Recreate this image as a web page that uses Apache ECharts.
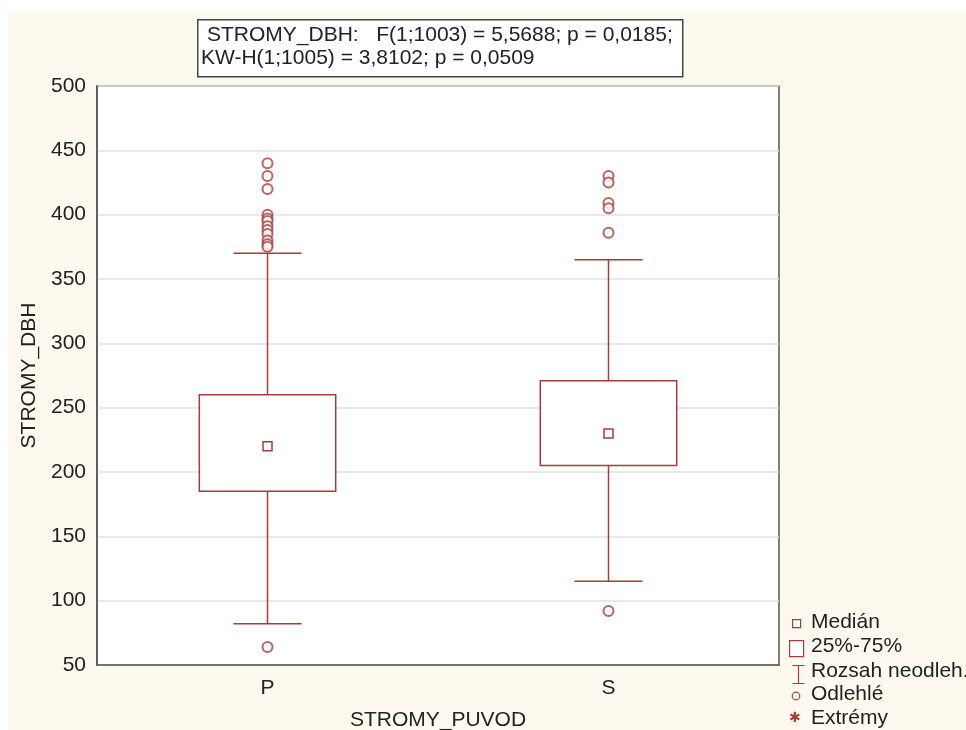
<!DOCTYPE html>
<html>
<head>
<meta charset="utf-8">
<script src="https://cdn.jsdelivr.net/npm/echarts@6/dist/echarts.min.js"></script>
<style>
  html, body { margin: 0; padding: 0; background: #fff; overflow: hidden; }
  #box { width: 966px; height: 730px; }
</style>
</head>
<body>
<div id="box"></div>
<script>
// data
const categories = ['P', 'S'];
// [whisker low, Q1, median, Q3, whisker high]
const boxStats = [
    [82, 185, 220, 260, 370],
    [115, 205, 230, 271, 365]
];
const outliersP = [440, 430, 420, 400, 397, 395, 391, 388, 385, 380, 377, 375, 64];
const outliersS = [430, 425, 409, 405, 386, 92];
const yTicks = [50, 100, 150, 200, 250, 300, 350, 400, 450, 500];

const RED = '#a83c3c';
const FONT = 'Liberation Sans, Arial';

document.addEventListener('DOMContentLoaded', function () {
    const chart = echarts.init(document.getElementById('box'), null, { renderer: 'canvas' });

    const outlierData = [];
    outliersP.forEach(function (v) { outlierData.push([0, v]); });
    outliersS.forEach(function (v) { outlierData.push([1, v]); });

    const legendText = { fontSize: 21, fill: '#222', fontFamily: FONT };

    const option = {
        backgroundColor: '#fef9ee',
        animation: false,
        textStyle: { fontFamily: FONT },
        grid: {
            left: 97, top: 86, right: 187, bottom: 65,
            outerBoundsMode: 'none',
            show: true,
            backgroundColor: '#ffffff',
            borderColor: '#555',
            borderWidth: 1.5
        },
        xAxis: {
            type: 'category',
            data: categories,
            name: 'STROMY_PUVOD',
            nameLocation: 'middle',
            nameGap: 45,
            nameTextStyle: { fontSize: 21, color: '#222' },
            axisLine: { lineStyle: { color: '#555', width: 1.5 } },
            axisTick: { alignWithLabel: true, inside: true, length: 4, lineStyle: { color: '#555' } },
            axisLabel: { fontSize: 21, color: '#222', margin: 13 },
            splitLine: { show: false }
        },
        yAxis: {
            type: 'value',
            min: yTicks[0],
            max: yTicks[yTicks.length - 1],
            interval: 50,
            name: 'STROMY_DBH',
            nameLocation: 'middle',
            nameGap: 56,
            nameTextStyle: { fontSize: 21, color: '#222' },
            axisLine: { show: true, lineStyle: { color: '#555', width: 1.5 } },
            axisTick: { show: false },
            axisLabel: { fontSize: 21, color: '#222', margin: 11 },
            splitLine: { lineStyle: { color: '#e2e2e2', width: 1.5 } }
        },
        series: [
            {
                type: 'custom',
                data: boxStats.map(function (s, i) { return [i].concat(s); }),
                encode: { x: 0, y: [1, 2, 3, 4, 5] },
                renderItem: function (params, api) {
                    const i = api.value(0);
                    const lo = api.coord([i, api.value(1)]);
                    const q1 = api.coord([i, api.value(2)]);
                    const med = api.coord([i, api.value(3)]);
                    const q3 = api.coord([i, api.value(4)]);
                    const hi = api.coord([i, api.value(5)]);
                    const bw = api.size([1, 0])[0] * 0.4;
                    const cw = bw * 0.5;
                    const x = lo[0];
                    const st = { stroke: RED, lineWidth: 1.5, fill: null };
                    return {
                        type: 'group',
                        children: [
                            { type: 'line', shape: { x1: x, y1: hi[1], x2: x, y2: q3[1] }, style: st },
                            { type: 'line', shape: { x1: x, y1: q1[1], x2: x, y2: lo[1] }, style: st },
                            { type: 'line', shape: { x1: x - cw / 2, y1: hi[1], x2: x + cw / 2, y2: hi[1] }, style: st },
                            { type: 'line', shape: { x1: x - cw / 2, y1: lo[1], x2: x + cw / 2, y2: lo[1] }, style: st },
                            { type: 'rect', shape: { x: x - bw / 2, y: q3[1], width: bw, height: q1[1] - q3[1] },
                              style: { stroke: RED, lineWidth: 1.5, fill: '#fff' } },
                            { type: 'rect', shape: { x: med[0] - 4.5, y: med[1] - 4.5, width: 9, height: 9 },
                              style: { stroke: RED, lineWidth: 1.5, fill: '#fff' } }
                        ]
                    };
                },
                z: 3
            },
            {
                type: 'scatter',
                data: outlierData,
                symbol: 'emptyCircle',
                symbolSize: 10,
                itemStyle: { color: RED, borderColor: RED, borderWidth: 1.5 },
                z: 4
            }
        ],
        graphic: [
            // white page margin
            { type: 'rect', left: 0, top: 0, shape: { width: 966, height: 10 }, style: { fill: '#fff' }, silent: true },
            { type: 'rect', left: 0, top: 0, shape: { width: 8, height: 730 }, style: { fill: '#fff' }, silent: true },
            // stats box
            { type: 'rect', left: 197, top: 19, shape: { width: 485, height: 57 },
              style: { fill: '#fff', stroke: '#444', lineWidth: 1.5 } },
            { type: 'text', left: 207, top: 25,
              style: { text: 'STROMY_DBH:   F(1;1003) = 5,5688; p = 0,0185;', fontSize: 21, fill: '#222', fontFamily: FONT } },
            { type: 'text', left: 201, top: 48,
              style: { text: 'KW-H(1;1005) = 3,8102; p = 0,0509', fontSize: 21, fill: '#222', fontFamily: FONT } },
            // legend
            { type: 'rect', left: 792, top: 619, shape: { width: 8, height: 8 }, style: { fill: '#fff', stroke: RED, lineWidth: 1.2 } },
            { type: 'text', left: 811, top: 612, style: Object.assign({ text: 'Medián' }, legendText) },
            { type: 'rect', left: 789, top: 640, shape: { width: 14, height: 16 }, style: { fill: '#fff', stroke: RED, lineWidth: 1.2 } },
            { type: 'text', left: 811, top: 636, style: Object.assign({ text: '25%-75%' }, legendText) },
            { type: 'polyline', left: 790, top: 663, shape: { points: [[0, 0], [12, 0], [6, 0], [6, 18], [0, 18], [12, 18]] },
              style: { stroke: RED, lineWidth: 1.2, fill: null } },
            { type: 'text', left: 811, top: 661, style: Object.assign({ text: 'Rozsah neodleh.' }, legendText) },
            { type: 'circle', shape: { cx: 796, cy: 696, r: 3.8 }, style: { fill: '#fff', stroke: RED, lineWidth: 1.2 } },
            { type: 'text', left: 811, top: 684, style: Object.assign({ text: 'Odlehlé' }, legendText) },
            { type: 'text', left: 789, top: 711, style: { text: '✱', fontSize: 14, fill: RED } },
            { type: 'text', left: 811, top: 708, style: Object.assign({ text: 'Extrémy' }, legendText) }
        ]
    };

    chart.setOption(option);
    window.addEventListener('resize', function () { chart.resize(); });
});
</script>
</body>
</html>
